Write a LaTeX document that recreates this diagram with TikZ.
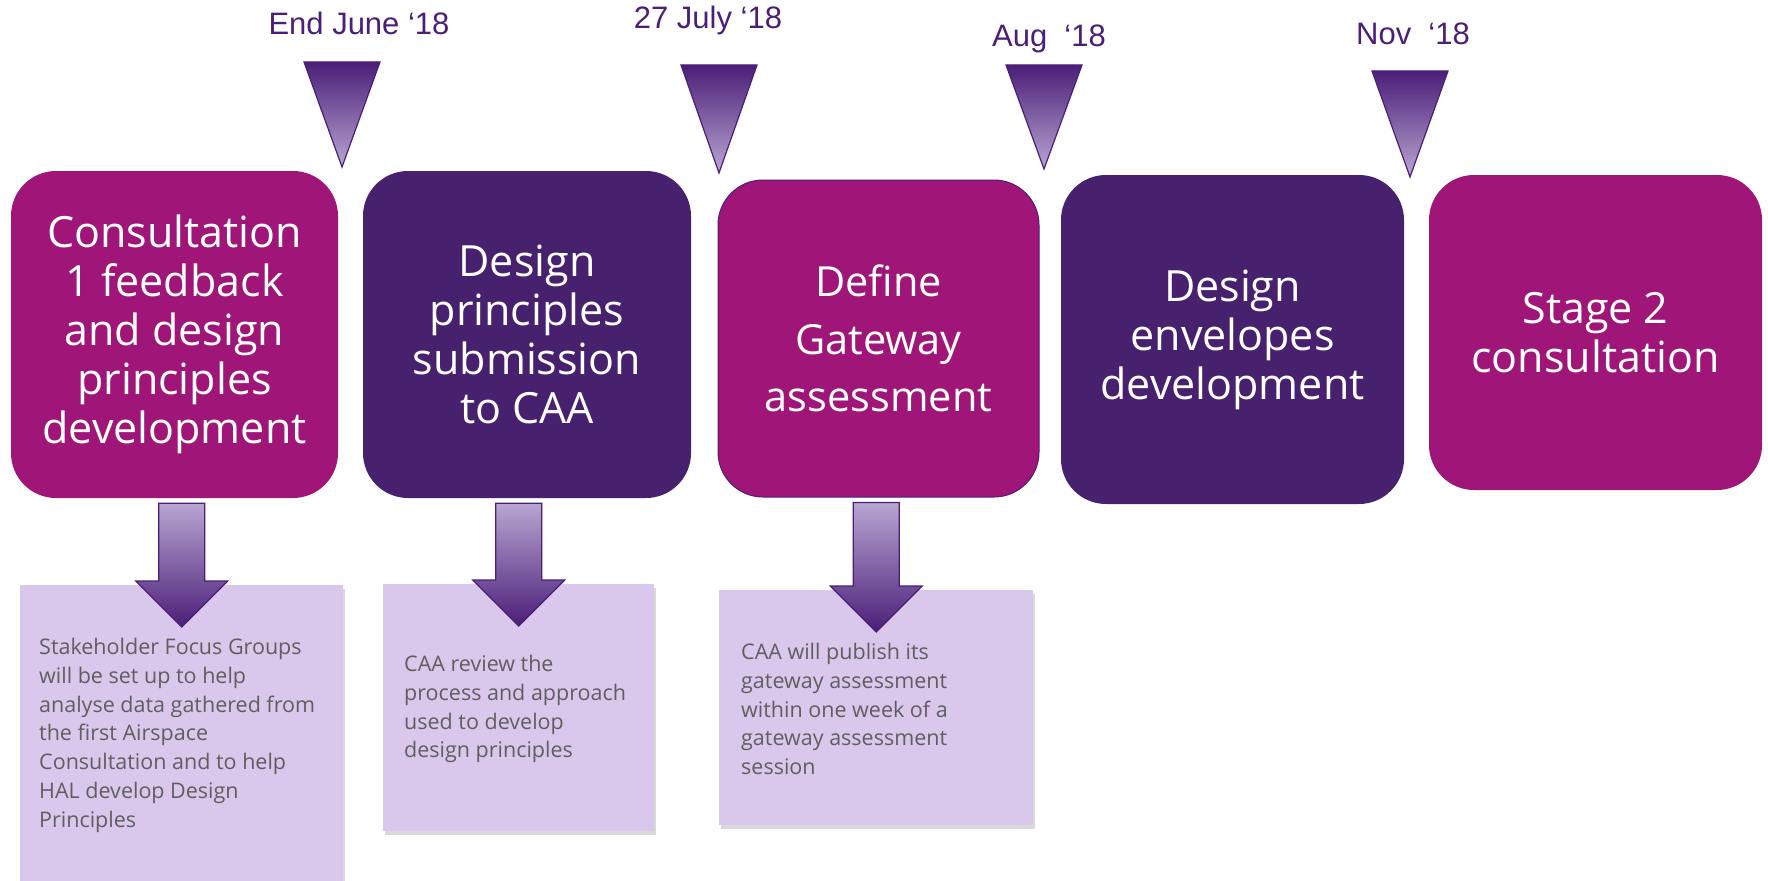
\documentclass[tikz,border=0pt]{standalone}
\usepackage{fontspec}
\setmainfont{Open Sans}[Ligatures=NoCommon]
\newfontfamily\datefont{Liberation Sans}
\usepackage{tikz}
\usetikzlibrary{positioning,calc,shadows}

\definecolor{stagemag}{HTML}{A01578}
\definecolor{stagepur}{HTML}{47206E}
\definecolor{notefill}{HTML}{D9C7EC}
\definecolor{notetext}{HTML}{5F5F5F}
\definecolor{markdark}{HTML}{4B1E78}
\definecolor{marklight}{HTML}{B8A6D2}

\tikzset{
  stage/.style={rounded corners=45pt, text=white, align=center, inner sep=0pt,
    font=\fontsize{43}{49}\selectfont},
  magstage/.style={stage, fill=stagemag},
  purstage/.style={stage, fill=stagepur},
  note/.style={fill=notefill, inner sep=0pt, anchor=north west,
    drop shadow={shadow xshift=2pt, shadow yshift=-4pt, opacity=0.3}},
  notetxt/.style={text=notetext, align=left, inner sep=0pt,
    font=\fontsize{21.5}{28.8}\selectfont},
  datelbl/.style={text=markdark, font=\datefont\fontsize{31}{36}\selectfont},
  marker/.style={top color=markdark, bottom color=marklight, draw=markdark, line width=1.2pt},
  arrowfill/.style={top color=marklight, bottom color=markdark, draw=markdark, line width=1.2pt}
}

% block arrow from a stage box down into its note
\newcommand{\stagearrow}[2]{%
  \shadedraw[arrowfill] let \p1=(#1.south), \p2=(#2.north) in
    (\x2-23,\y1-5) -- (\x2+23,\y1-5) -- (\x2+23,\y2+4) -- (\x2+46,\y2+4)
    -- (\x2,\y2-42) -- (\x2-46,\y2+4) -- (\x2-23,\y2+4) -- cycle;}

\begin{document}
\begin{tikzpicture}[x=1pt,y=-1pt]
  \useasboundingbox (0,0) rectangle (1768,880);

  % dates and markers
  \node[datelbl] (june) at (359,23) {End June ‘18};
  \node[datelbl] (july) at (708,20) {27 July ‘18};
  \node[datelbl] (aug) at (1049,39) {Aug\ \ ‘18};
  \node[datelbl] (nov) at (1413,34) {Nov\ \ ‘18};
  \foreach \cx/\ty/\by in {342/62/167, 719/65/173, 1044/65/169, 1410/71/177}
    \shadedraw[marker] (\cx-38,\ty) -- (\cx+38,\ty) -- (\cx,\by) -- cycle;

  % stages
  \node[magstage, minimum width=327pt, minimum height=327pt] (consult) at (174.5,334.5)
    {Consultation\\1 feedback\\and design\\principles\\development};
  \node[purstage, minimum width=328pt, minimum height=327pt] (submit) at (527,334.5)
    {Design\\principles\\submission\\to CAA};
  \node[magstage, draw=markdark, line width=1pt, minimum width=321pt, minimum height=317pt,
    font=\fontsize{41.5}{57.5}\selectfont] (gateway) at (878.5,338.5)
    {Define\\Gateway\\assessment};
  \node[purstage, minimum width=343pt, minimum height=329pt] (envelope) at (1232.5,339.5)
    {Design\\envelopes\\development};
  \node[magstage, minimum width=333pt, minimum height=315pt] (stagetwo) at (1595.5,332.5)
    {Stage 2\\consultation};

  % notes
  \node[note, minimum width=323pt, minimum height=300pt] (focusnote) at (20,585) {};
  \node[note, minimum width=271pt, minimum height=247pt] (reviewnote) at (383,584) {};
  \node[note, minimum width=314pt, minimum height=235pt] (publishnote) at (719,590) {};

  \stagearrow{consult}{focusnote}
  \stagearrow{submit}{reviewnote}
  \stagearrow{gateway}{publishnote}

  \node[notetxt, below right=53pt and 19pt of focusnote.north west] (focustext)
    {Stakeholder Focus Groups\\will be set up to help\\analyse data gathered from\\the first Airspace\\Consultation and to help\\HAL develop Design\\Principles};
  \node[notetxt, below right=71pt and 21pt of reviewnote.north west] (reviewtext)
    {CAA review the\\process and approach\\used to develop\\design principles};
  \node[notetxt, below right=53pt and 22pt of publishnote.north west] (publishtext)
    {CAA will publish its\\gateway assessment\\within one week of a\\gateway assessment\\session};
\end{tikzpicture}
\end{document}
